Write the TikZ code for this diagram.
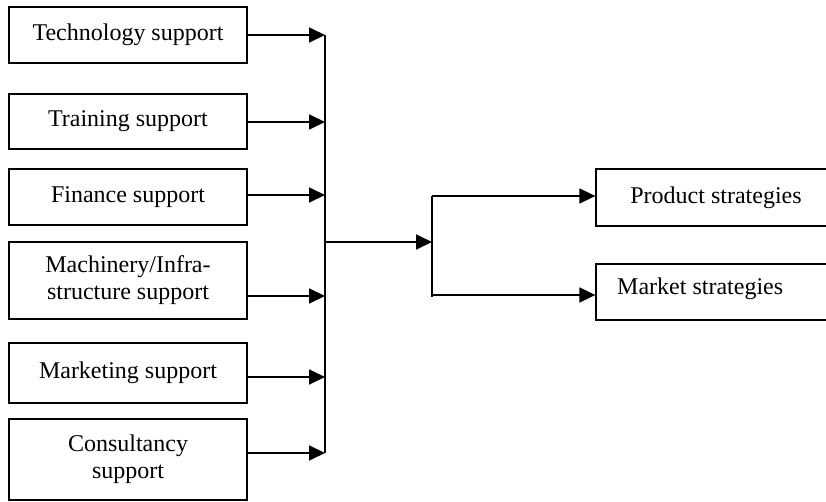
\documentclass[tikz,border=0pt]{standalone}
\usepackage{fontspec}
\setmainfont{Liberation Serif}
\usetikzlibrary{arrows.meta}
\begin{document}
\begin{tikzpicture}[x=1pt,y=-1pt,
  box/.style={draw, line width=1.3pt, minimum width=238pt, inner sep=0pt, align=center,
    font=\fontsize{24}{27}\selectfont},
  rbox/.style={draw, line width=1.3pt, minimum width=240pt, inner sep=0pt,
    font=\fontsize{24}{27}\selectfont},
  conn/.style={line width=1.8pt},
  arr/.style={line width=1.8pt, -{Triangle[length=16pt,width=15pt]}}]
\useasboundingbox (0,0) rectangle (826,502);
\clip (0,0) rectangle (826,502);
% left boxes
\node[box, minimum height=56pt] (b1) at (128,35) {Technology support};
\node[box, minimum height=55pt] (b2) at (128,121.5) {Training support};
\node[box, minimum height=56pt] (b3) at (128,197) {Finance support};
\node[box, minimum height=77pt] (b4) at (128,280.5) {Machinery/Infra-\\structure support};
\node[box, minimum height=60pt] (b5) at (128,373) {Marketing support};
\node[box, minimum height=81pt] (b6) at (128,459.5) {Consultancy\\support};
% right boxes
\node[rbox, minimum height=57pt] (p) at (716,197.5) {Product strategies};
\node[rbox, minimum height=56pt] (m) at (716,292) {};
\node[anchor=west, inner sep=0pt, font=\fontsize{24}{27}\selectfont] (mt) at (617,289) {Market strategies};
% bus coordinates
\coordinate (bt) at (325,35);
\coordinate (bb) at (325,453);
\coordinate (bm) at (325,242);
\coordinate (ct) at (432,196);
\coordinate (cm) at (432,242);
\coordinate (cb) at (432,297);
% arrows from left boxes
\draw[arr] (b1.east |- bt) -- (bt);
\draw[arr] (b2.east |- 0,122) -- (bt |- 0,122);
\draw[arr] (b3.east |- 0,195) -- (bt |- 0,195);
\draw[arr] (b4.east |- 0,296) -- (bt |- 0,296);
\draw[arr] (b5.east |- 0,377) -- (bt |- 0,377);
\draw[arr] (b6.east |- bb) -- (bb);
% vertical bus
\draw[conn] (bt) -- (bb);
% main arrow
\draw[arr] (bm) -- (cm);
% second bus
\draw[conn] (ct) -- (cb);
\draw[arr] (ct) -- (p.west |- ct);
\draw[arr] (432,295) -- (m.west |- 0,295);
\end{tikzpicture}
\end{document}
